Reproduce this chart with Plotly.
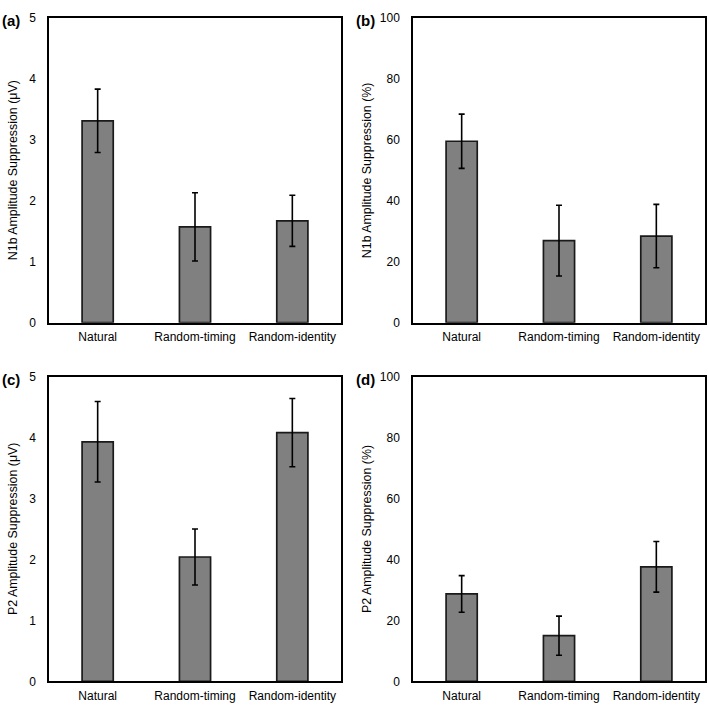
import plotly.graph_objects as go

categories = ["Natural", "Random-timing", "Random-identity"]

a_vals = [3.31, 1.57, 1.67]
a_err = [0.52, 0.56, 0.42]
b_vals = [59.5, 26.9, 28.4]
b_err = [8.9, 11.6, 10.4]
c_vals = [3.93, 2.04, 4.08]
c_err = [0.66, 0.46, 0.56]
d_vals = [28.7, 15.0, 37.6]
d_err = [6.0, 6.4, 8.3]

y_titles = [
    "N1b Amplitude Suppression (μV)",
    "N1b Amplitude Suppression (%)",
    "P2 Amplitude Suppression (μV)",
    "P2 Amplitude Suppression (%)",
]
panel_labels = ["(a)", "(b)", "(c)", "(d)"]
y_ranges = [[0, 5], [0, 100], [0, 5], [0, 100]]
y_dticks = [1, 20, 1, 20]

W, H = 709, 708
# plot-area pixel boxes (left, top, right, bottom)
boxes = [(49, 11, 341, 322), (413, 11, 705, 322), (49, 377, 341, 688), (413, 377, 705, 688)]
label_x = [0, 354, 0, 354]
title_x = [13, 367, 13, 367]

fig = go.Figure()
series = [(a_vals, a_err), (b_vals, b_err), (c_vals, c_err), (d_vals, d_err)]
font = "Liberation Sans, Arial, sans-serif"

for i, ((vals, errs), box) in enumerate(zip(series, boxes)):
    n = "" if i == 0 else str(i + 1)
    fig.add_trace(go.Bar(
        x=categories, y=vals,
        error_y=dict(type="data", array=errs, visible=True, color="black", thickness=1.6, width=3),
        marker=dict(color="#808080", line=dict(color="#1a1a1a", width=1.7)),
        width=0.32,
        xaxis="x" + n, yaxis="y" + n, showlegend=False,
    ))
    l, t, r, b = box
    xd = [l / W, r / W]
    yd = [1 - b / H, 1 - t / H]
    fig.layout["xaxis" + n] = dict(
        domain=xd, anchor="y" + n, showline=True, mirror=True, linecolor="black", linewidth=1.5,
        ticks="", showgrid=False, tickfont=dict(family=font, size=12, color="black"),
        ticklabelstandoff=2,
    )
    fig.layout["yaxis" + n] = dict(
        domain=yd, anchor="x" + n, range=y_ranges[i], dtick=y_dticks[i],
        showline=True, mirror=True, linecolor="black", linewidth=1.5,
        ticks="", showgrid=False, zeroline=False,
        tickfont=dict(family=font, size=12, color="black"), ticklabelstandoff=9,
    )
    fig.add_annotation(
        x=title_x[i] / W, y=1 - ((t + b) / 2) / H,
        xref="paper", yref="paper", text=y_titles[i], textangle=-90, showarrow=False,
        font=dict(family=font, size=12.4, color="black"), xanchor="center", yanchor="middle",
    )
    fig.add_annotation(
        x=label_x[i] / W, y=1 - (t + 3) / H, xref="paper", yref="paper",
        text="<b>" + panel_labels[i] + "</b>", showarrow=False, xanchor="left", yanchor="middle",
        font=dict(family=font, size=15, color="black"),
    )

fig.update_layout(
    width=W, height=H, margin=dict(l=0, r=0, t=0, b=0),
    paper_bgcolor="white", plot_bgcolor="white", bargap=0.68,
)
fig.write_html(
    "out.html",
    config={"displayModeBar": False},
    post_script="document.body.style.margin='0';document.body.style.overflow='hidden';",
)
